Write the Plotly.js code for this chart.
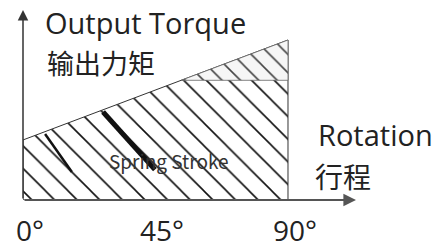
<!DOCTYPE html>
<html>
<head>
<meta charset="utf-8">
<script src="https://cdn.plot.ly/plotly-3.0.1.min.js"></script>
<style>html,body{margin:0;padding:0;background:#fff;}#chart{width:438px;height:248px;}</style>
</head>
<body>
<div id="chart"></div>
<script>
// Data
const angles = [0, 90];            // rotation (degrees)
const torque = [31.6, 84.2];       // output torque at start / end of stroke (relative units)
const upperLevel = 63;             // level separating the upper zone
const tickVals = [0, 45, 90];
const tickText = ['0°', '45°', '90°'];
const regionLabel = 'Spring Stroke';
const yTitleEn = 'Output Torque';
const yTitleZh = '输出力矩';
const xTitleEn = 'Rotation';
const xTitleZh = '行程';
// dark streaks visible inside the hatched area (artefacts of the original drawing)
const streakX = [27.2, 44.8];
const streakY = [46.3, 16.0];
const streak2X = [7.5, 16.6];
const streak2Y = [34.7, 14.7];

const LATIN = '"Open Sans", "Noto Sans CJK SC", sans-serif';
const CJK = '"Noto Sans CJK SC", sans-serif';
const xMax = 113.1, yMax = 100;

const xCross = angles[0] + (upperLevel - torque[0]) / (torque[1] - torque[0]) * (angles[1] - angles[0]);

const mainArea = {
  x: [angles[0], angles[0], angles[1], angles[1], angles[0]],
  y: [0, torque[0], torque[1], 0, 0],
  mode: 'lines', fill: 'toself',
  line: {color: '#333', width: 1},
  fillcolor: '#fff',
  fillpattern: {shape: '\\', size: 16, solidity: 0.1, fgcolor: '#111', bgcolor: '#fff'},
  hoverinfo: 'skip', showlegend: false
};
const upperArea = {
  x: [xCross, angles[1], angles[1], xCross],
  y: [upperLevel, torque[1], upperLevel, upperLevel],
  mode: 'lines', fill: 'toself',
  line: {color: '#666', width: 0.8},
  fillcolor: '#f6f6f6',
  fillpattern: {shape: '\\', size: 13, solidity: 0.12, fgcolor: '#444', bgcolor: '#f6f6f6'},
  hoverinfo: 'skip', showlegend: false
};
const streak = {
  x: streakX, y: streakY, mode: 'lines',
  line: {color: '#111', width: 5},
  hoverinfo: 'skip', showlegend: false
};
const streak2 = {
  x: streak2X, y: streak2Y, mode: 'lines',
  line: {color: '#111', width: 2.5},
  hoverinfo: 'skip', showlegend: false
};

const annotations = [
  {xref: 'x', yref: 'y', x: 0, y: yMax, ax: 0, ay: 0, axref: 'x', ayref: 'y',
   text: '', showarrow: true, arrowhead: 2, arrowsize: 1.4, arrowwidth: 1.5, arrowcolor: '#333'},
  {xref: 'x', yref: 'y', x: xMax, y: 0, ax: 0, ay: 0, axref: 'x', ayref: 'y',
   text: '', showarrow: true, arrowhead: 2, arrowsize: 1.4, arrowwidth: 1.8, arrowcolor: '#555'},
  {xref: 'paper', yref: 'paper', x: 0.06, y: 0.935, xanchor: 'left', yanchor: 'middle',
   text: yTitleEn, showarrow: false, font: {family: LATIN, size: 29, color: '#222'}},
  {xref: 'paper', yref: 'paper', x: 0.066, y: 0.726, xanchor: 'left', yanchor: 'middle',
   text: yTitleZh, showarrow: false, font: {family: CJK, size: 27, color: '#222'}},
  {xref: 'paper', yref: 'paper', x: 0.881, y: 0.347, xanchor: 'left', yanchor: 'middle',
   text: xTitleEn, showarrow: false, font: {family: LATIN, size: 29, color: '#222'}},
  {xref: 'paper', yref: 'paper', x: 0.870, y: 0.126, xanchor: 'left', yanchor: 'middle',
   text: xTitleZh, showarrow: false, font: {family: CJK, size: 28, color: '#222'}},
  {xref: 'x', yref: 'y', x: 49.5, y: 21, xanchor: 'center', yanchor: 'middle',
   text: regionLabel, showarrow: false, font: {family: CJK, size: 19, color: '#333'}}
];
tickVals.forEach((v, i) => {
  annotations.push({xref: 'x', yref: 'paper', x: v, y: -0.16, xanchor: 'center', yanchor: 'middle',
    xshift: 7, text: tickText[i], showarrow: false, font: {family: LATIN, size: 28, color: '#222'}});
});

const layout = {
  width: 438, height: 248,
  margin: {l: 23, r: 82, t: 10, b: 48},
  paper_bgcolor: '#fff', plot_bgcolor: '#fff',
  showlegend: false,
  xaxis: {range: [0, xMax], showgrid: false, zeroline: false, showline: false,
    ticks: '', showticklabels: false, fixedrange: true},
  yaxis: {range: [0, yMax], showgrid: false, zeroline: false, showline: false,
    showticklabels: false, ticks: '', fixedrange: true},
  annotations: annotations
};

Plotly.newPlot('chart', [mainArea, upperArea, streak, streak2], layout, {displayModeBar: false, staticPlot: true});
</script>
</body>
</html>
